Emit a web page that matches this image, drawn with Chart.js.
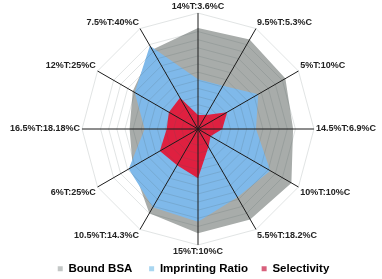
<!DOCTYPE html>
<html>
<head>
<meta charset="utf-8">
<script src="https://cdn.jsdelivr.net/npm/chart.js@4.4.1/dist/chart.umd.min.js"></script>
<style>
  html, body { margin: 0; padding: 0; background: #ffffff; }
  #wrap { width: 382px; height: 279px; position: relative; }
</style>
</head>
<body>
<div id="wrap"><canvas id="radarChart"></canvas></div>
<script>
// Axis labels, clockwise from the top
const axisLabels = [
    '14%T:3.6%C', '9.5%T:5.3%C', '5%T:10%C', '14.5%T:6.9%C',
    '10%T:10%C', '5.5%T:18.2%C', '15%T:10%C', '10.5%T:14.3%C',
    '6%T:25%C', '16.5%T:18.18%C', '12%T:25%C', '7.5%T:40%C'
];

// Values (0 - 100 of the outer ring)
const boundBSA = [87, 89, 87, 82, 93, 90, 90, 84, 65, 59, 65, 79];
const imprintingRatio = [43, 43, 60, 50, 72, 68, 80, 78, 69, 46, 63, 83];
const selectivity = [12, 14, 29, 21, 12.5, 18, 42.5, 36, 38, 27, 29, 31];

// Legend entries (trailing spaces widen the gap between items)
const seriesNames = ['Bound BSA', 'Imprinting Ratio', 'Selectivity'];
const legendText = ['Bound BSA    ', 'Imprinting Ratio   ', 'Selectivity'];
const legendColors = ['#c3c7c6', '#a9d6f0', '#d8607c'];

const ctx = document.getElementById('radarChart').getContext('2d');
const radarChart = new Chart(ctx, {
    type: 'radar',
    data: {
        labels: axisLabels,
        datasets: [{
            label: seriesNames[0],
            data: boundBSA,
            backgroundColor: '#a8acaa',
            borderWidth: 0,
            pointRadius: 0,
            fill: true,
            order: 3
        }, {
            label: seriesNames[1],
            data: imprintingRatio,
            backgroundColor: '#7fb9ea',
            borderWidth: 0,
            pointRadius: 0,
            fill: true,
            order: 2
        }, {
            label: seriesNames[2],
            data: selectivity,
            backgroundColor: '#df2040',
            borderWidth: 0,
            pointRadius: 0,
            fill: true,
            order: 1
        }]
    },
    options: {
        responsive: true,
        maintainAspectRatio: false,
        animation: false,
        layout: { padding: { top: 0, bottom: 0, left: 5, right: 0 } },
        elements: { line: { tension: 0 } },
        scales: {
            r: {
                min: 0,
                max: 100,
                ticks: { display: false, stepSize: 7 },
                grid: {
                    z: 1,
                    color: (c) => (c.tick && (c.tick.value === 91 || c.tick.value === 98))
                        ? 'rgba(0,0,0,0)' : 'rgba(70,85,85,0.16)',
                    lineWidth: 1
                },
                angleLines: { color: '#1c1c1c', lineWidth: 1 },
                pointLabels: {
                    color: '#222',
                    padding: 2,
                    font: { family: '"Liberation Sans", Arial, sans-serif', size: 9, weight: 'bold', lineHeight: 1 }
                }
            }
        },
        plugins: {
            tooltip: { enabled: false },
            legend: {
                position: 'bottom',
                maxHeight: 20,
                labels: {
                    color: '#1a1a1a',
                    boxWidth: 5,
                    boxHeight: 5,
                    padding: 4,
                    font: { family: '"Liberation Sans", Arial, sans-serif', size: 11.5, weight: 'bold' },
                    generateLabels: () => legendText.map((name, i) => ({
                        text: name,
                        fillStyle: legendColors[i],
                        strokeStyle: legendColors[i],
                        lineWidth: 0,
                        datasetIndex: i
                    }))
                }
            }
        }
    }
});
</script>
</body>
</html>
